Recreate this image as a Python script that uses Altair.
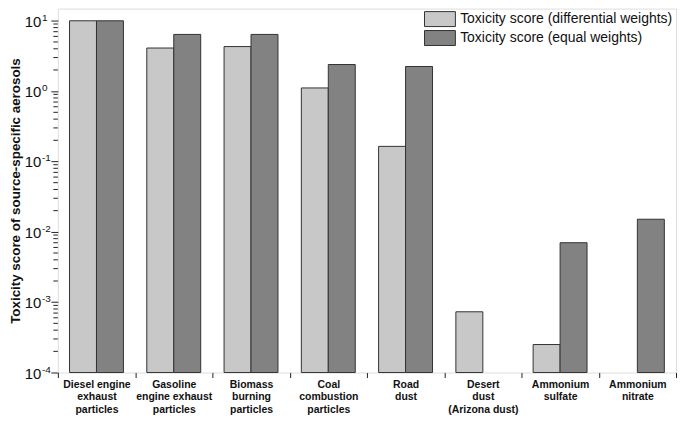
import altair as alt
import pandas as pd

categories = [
    "Diesel engine|exhaust|particles",
    "Gasoline|engine exhaust|particles",
    "Biomass|burning|particles",
    "Coal|combustion|particles",
    "Road|dust",
    "Desert|dust|(Arizona dust)",
    "Ammonium|sulfate",
    "Ammonium|nitrate",
]
series = ["Toxicity score (differential weights)", "Toxicity score (equal weights)"]
diff_weights = [10.0, 4.1, 4.3, 1.11, 0.164, 7.3e-4, 2.5e-4, None]
equal_weights = [10.0, 6.4, 6.4, 2.39, 2.24, None, 7.0e-3, 0.0151]
colors = ["#c8c8c8", "#828282"]

major_ticks = [1e-4, 1e-3, 1e-2, 1e-1, 1e0, 1e1]
exponents = ["-4", "-3", "-2", "-1", "0", "1"]
minor_mult = [2, 3, 4, 5, 6, 7, 8, 9]
y_domain = [1e-4, 14.9]

FONT = "Liberation Sans"

rows = []
for c, d, e in zip(categories, diff_weights, equal_weights):
    if d is not None:
        rows.append({"cat": c, "series": series[0], "v": d, "base": y_domain[0]})
    if e is not None:
        rows.append({"cat": c, "series": series[1], "v": e, "base": y_domain[0]})
df = pd.DataFrame(rows)

minor_vals = [m * t for t in major_ticks for m in minor_mult if m * t <= y_domain[1]]
minor_df = pd.DataFrame({"v": minor_vals})
major_df = pd.DataFrame({"v": major_ticks, "exp": exponents})

yscale = alt.Scale(type="log", domain=y_domain, nice=False)
y_axis = alt.Axis(
    values=major_ticks,
    labels=False,
    tickSize=7,
    tickColor="#222",
    domain=False,
    grid=False,
    title="Toxicity score of source-specific aerosols",
    titleFont=FONT,
    titleFontSize=13.4,
    titleFontWeight="bold",
    titleColor="#111",
    titlePadding=28,
)

bars = (
    alt.Chart(df)
    .mark_bar(stroke="#333", strokeWidth=1, opacity=1)
    .encode(
        x=alt.X(
            "cat:N",
            sort=categories,
            scale=alt.Scale(paddingInner=0, paddingOuter=0),
            axis=alt.Axis(
                title=None,
                labelExpr="split(datum.label, '|')",
                labelFont=FONT,
                labelFontWeight="bold",
                labelFontSize=10.5,
                labelLineHeight=12.5,
                labelColor="#111",
                labelAngle=0,
                labelPadding=2,
                tickBand="extent",
                tickSize=5,
                tickColor="#222",
                domain=False,
            ),
        ),
        xOffset=alt.XOffset("series:N", sort=series, scale=alt.Scale(paddingInner=0, paddingOuter=0.433)),
        y=alt.Y("v:Q", scale=yscale, axis=y_axis),
        y2=alt.Y2("base:Q"),
        color=alt.Color(
            "series:N",
            sort=series,
            scale=alt.Scale(domain=series, range=colors),
            legend=alt.Legend(
                title=None,
                orient="none",
                legendX=374.75,
                legendY=2,
                symbolType="M-2,-0.968H2V0.968H-2Z",
                symbolSize=240,
                symbolStrokeColor="#333",
                symbolStrokeWidth=1,
                symbolOpacity=1,
                labelFont=FONT,
                labelFontSize=14,
                labelColor="#111",
                labelOffset=11.75,
                labelLimit=0,
                rowPadding=0,
            ),
        ),
    )
)

minor = (
    alt.Chart(minor_df)
    .mark_rule(color="#222", strokeWidth=1)
    .encode(y=alt.Y("v:Q", scale=yscale, axis=y_axis), x=alt.value(-4.5), x2=alt.value(0))
)

lab10 = (
    alt.Chart(major_df)
    .mark_text(align="right", baseline="middle", fontSize=15, font=FONT, color="#111", dy=1)
    .encode(y=alt.Y("v:Q", scale=yscale, axis=y_axis), x=alt.value(-16.5), text=alt.value("10"))
)

labexp = (
    alt.Chart(major_df)
    .mark_text(align="left", baseline="middle", fontSize=10, font=FONT, color="#111", dy=-3)
    .encode(y=alt.Y("v:Q", scale=yscale, axis=y_axis), x=alt.value(-16), text="exp:N")
)

chart = (
    alt.layer(bars, minor, lab10, labexp)
    .properties(width=620, height=365, padding=0)
    .configure_view(stroke="#222", strokeWidth=1.3)
    .configure(background="white")
)

chart.save("out.html", embed_options={"renderer": "svg", "actions": False})
